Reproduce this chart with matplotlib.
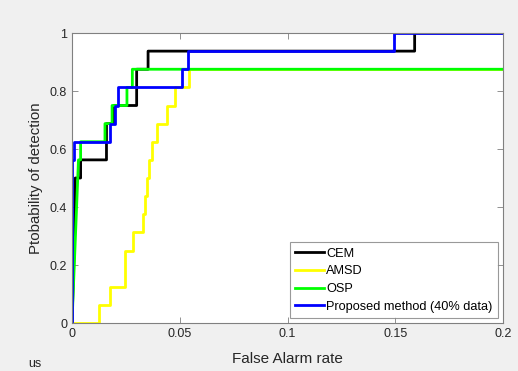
import matplotlib
matplotlib.use('Agg')
from matplotlib import pyplot as plt

plt.rcParams['font.family'] = ['Liberation Sans', 'DejaVu Sans']

# ROC 데이터
cem_far = [0, 0.0015, 0.0015, 0.004, 0.004, 0.016, 0.016, 0.0195, 0.0195, 0.030, 0.030, 0.0353, 0.0353, 0.159, 0.159, 0.2]
cem_pd = [0, 0.375, 0.5, 0.5, 0.5625, 0.5625, 0.6875, 0.6875, 0.75, 0.75, 0.875, 0.875, 0.9375, 0.9375, 1, 1]

amsd_far = [0, 0.0125, 0.0125, 0.0176, 0.0176, 0.0246, 0.0246, 0.0283, 0.0283, 0.033, 0.033, 0.0339, 0.0339,
            0.0348, 0.0348, 0.0357, 0.0357, 0.0371, 0.0371, 0.0394, 0.0394, 0.0441, 0.0441, 0.0478, 0.0478,
            0.0545, 0.0545, 0.2]
amsd_pd = [0, 0, 0.0625, 0.0625, 0.125, 0.125, 0.25, 0.25, 0.3125, 0.3125, 0.375, 0.375, 0.4375,
           0.4375, 0.5, 0.5, 0.5625, 0.5625, 0.625, 0.625, 0.6875, 0.6875, 0.75, 0.75, 0.8125,
           0.8125, 0.875, 0.875]

osp_far = [0, 0.003, 0.004, 0.004, 0.0153, 0.0153, 0.0186, 0.0186, 0.0255, 0.0255, 0.028, 0.028, 0.2]
osp_pd = [0, 0.5625, 0.5625, 0.625, 0.625, 0.6875, 0.6875, 0.75, 0.75, 0.8125, 0.8125, 0.875, 0.875]

prop_far = [0, 0, 0.0007, 0.0007, 0.0176, 0.0176, 0.0199, 0.0199, 0.0213, 0.0213, 0.051, 0.051, 0.054,
            0.054, 0.1495, 0.1495, 0.2]
prop_pd = [0, 0.5625, 0.5625, 0.625, 0.625, 0.6875, 0.6875, 0.75, 0.75, 0.8125, 0.8125, 0.875, 0.875,
           0.9375, 0.9375, 1, 1]

x_ticks = [0, 0.05, 0.1, 0.15, 0.2]
x_tick_labels = ['0', '0.05', '0.1', '0.15', '0.2']
y_ticks = [0, 0.2, 0.4, 0.6, 0.8, 1]
y_tick_labels = ['0', '0.2', '0.4', '0.6', '0.8', '1']

fig = plt.figure(figsize=(5.18, 3.71), dpi=100, facecolor='#f0f0f0')
ax = fig.add_axes([72 / 518, 48 / 371, 431 / 518, 290 / 371])

ax.plot(cem_far, cem_pd, color='black', lw=2, label='CEM')
ax.plot(amsd_far, amsd_pd, color='yellow', lw=2, label='AMSD')
ax.plot(osp_far, osp_pd, color='#00ff00', lw=2, label='OSP')
ax.plot(prop_far, prop_pd, color='blue', lw=2, label='Proposed method (40% data)')

ax.set_xlim(0, 0.2)
ax.set_ylim(0, 1)
ax.set_xticks(x_ticks)
ax.set_xticklabels(x_tick_labels)
ax.set_yticks(y_ticks)
ax.set_yticklabels(y_tick_labels)
ax.tick_params(direction='in', top=True, right=True, length=4, width=0.6,
               colors='#808080', labelcolor='#262626', labelsize=9)
for s in ax.spines.values():
    s.set_color('#808080')
    s.set_linewidth(0.8)

ax.set_xlabel('False Alarm rate', fontsize=11, color='#262626', labelpad=9)
ax.set_ylabel('Ptobability of detection', fontsize=10.8, color='#262626', labelpad=5)

leg = ax.legend(loc='lower right', fontsize=9.2, frameon=True, fancybox=False,
                edgecolor='#808080', handlelength=2.3, handletextpad=0.15,
                labelspacing=0.45, borderpad=0.4, borderaxespad=0.4)
leg.get_frame().set_linewidth(0.8)

# 왼쪽 아래 잘린 텍스트
fig.text(28 / 518, 4 / 371, 'us', fontsize=9, color='#262626', va='baseline')

plt.savefig('out.png', dpi=100, facecolor=fig.get_facecolor())
plt.close()
